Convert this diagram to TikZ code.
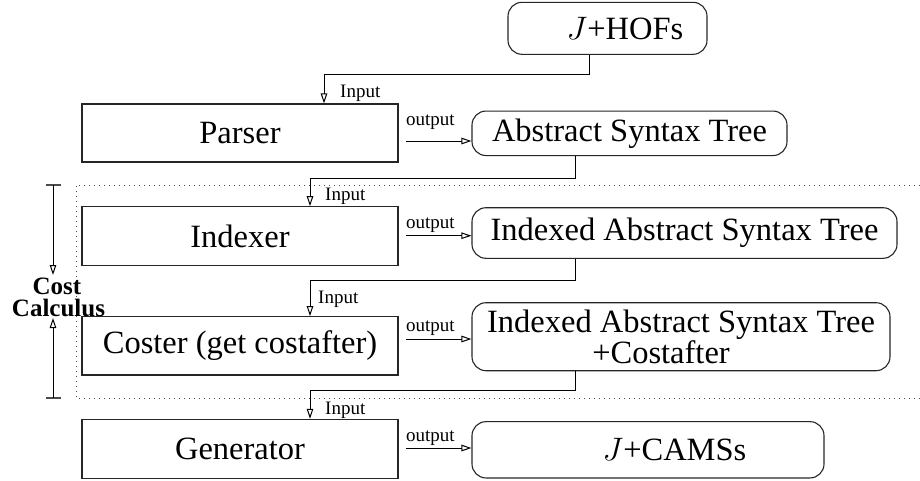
\RequirePackage{fix-cm}
\documentclass[tikz,border=0pt]{standalone}
\usepackage{fontspec}
\setmainfont{Liberation Serif}
\usetikzlibrary{arrows.meta}
\begin{document}
\begin{tikzpicture}[x=1pt,y=-1pt,
  big/.style={font=\fontsize{32.5}{29}\selectfont},
  small/.style={font=\fontsize{19}{21}\selectfont, inner sep=0pt},
  sqbox/.style={draw=black!85, line width=1.1pt, inner sep=0pt, big},
  rbox/.style={sqbox, rounded corners=14pt, align=center},
  conn/.style={line width=1pt, -{Triangle[open, length=10pt, width=6.5pt]}},
  dotline/.style={line width=1pt, black!70, dash pattern=on 1pt off 4pt},
  capline/.style={line width=1.6pt, black!70},
  cctext/.style={inner sep=0pt, font=\fontsize{25}{25}\selectfont\bfseries}]
\useasboundingbox (0,0) rectangle (920,480);
% boxes
\node[rbox, minimum width=199pt, minimum height=52pt] (hofs) at (607.5,28.3) {\hspace*{35pt}$J$+HOFs};
\node[sqbox, minimum width=316pt, minimum height=58pt] (parser) at (240,133) {Parser};
\node[rbox, minimum width=315pt, minimum height=44.5pt] (ast) at (629.5,133.3) {Abstract Syntax Tree};
\node[sqbox, minimum width=316pt, minimum height=59pt] (indexer) at (240,236.2) {Indexer};
\node[rbox, minimum width=425pt, minimum height=50.6pt] (iast) at (684.5,233) {Indexed Abstract Syntax Tree};
\node[sqbox, minimum width=316pt, minimum height=58.3pt] (coster) at (240,345.8) {Coster (get costafter)};
\node[rbox, minimum width=418pt, minimum height=68pt] (iastc) at (681,336.7) {Indexed Abstract Syntax Tree\\+Costafter\hspace*{40pt}};
\node[sqbox, minimum width=316pt, minimum height=58.7pt] (generator) at (240,448.7) {Generator};
\node[rbox, minimum width=352pt, minimum height=56.3pt] (cams) at (648,449.8) {\hspace*{53pt}$J$+CAMSs};
% turn points
\coordinate (a1) at (589,74);  \coordinate (b1) at (324,74);
\coordinate (a2) at (575,178); \coordinate (b2) at (310,178);
\coordinate (a3) at (575,280); \coordinate (b3) at (310,280);
\coordinate (a4) at (575,390.5); \coordinate (b4) at (310,390.5);
% input connectors
\draw[conn] (hofs.south -| a1) -- (a1) -- (b1) -- (b1 |- parser.north);
\draw[conn] (ast.south -| a2) -- (a2) -- (b2) -- (b2 |- indexer.north);
\draw[conn] (iast.south -| a3) -- (a3) -- (b3) -- (b3 |- coster.north);
\draw[conn] (iastc.south -| a4) -- (a4) -- (b4) -- (b4 |- generator.north);
\node[small, anchor=base west] (in1) at (340,97.5) {Input};
\node[small, anchor=base west] (in2) at (325,200.5) {Input};
\node[small, anchor=base west] (in3) at (318,303) {Input};
\node[small, anchor=base west] (in4) at (325,414) {Input};
% output connectors
\coordinate (o1) at (406,141);
\coordinate (o2) at (406,235.7);
\coordinate (o3) at (406,339);
\coordinate (o4) at (406,448);
\draw[conn] (o1) -- (o1 -| ast.west);
\draw[conn] (o2) -- (o2 -| iast.west);
\draw[conn] (o3) -- (o3 -| iastc.west);
\draw[conn] (o4) -- (o4 -| cams.west);
\node[small, anchor=base west] (out1) at (406,125) {output};
\node[small, anchor=base west] (out2) at (406,228) {output};
\node[small, anchor=base west] (out3) at (406,331) {output};
\node[small, anchor=base west] (out4) at (406,441) {output};
% cost calculus region
\draw[dotline] (920,185) -- (76,185) -- (76,398) -- (920,398);
\coordinate (ctop) at (53,185);
\coordinate (cbot) at (53,398);
\coordinate (cdown) at (53,275);
\coordinate (cup) at (53,318);
\draw[capline] (46,185) -- (61,185);
\draw[capline] (46,398) -- (61,398);
\draw[conn] (ctop) -- (cdown);
\draw[conn] (cbot) -- (cup);
\node[cctext, anchor=base] (cc1) at (57,294) {Cost};
\node[cctext, anchor=base] (cc2) at (58.5,316.5) {Calculus};
\end{tikzpicture}
\end{document}
